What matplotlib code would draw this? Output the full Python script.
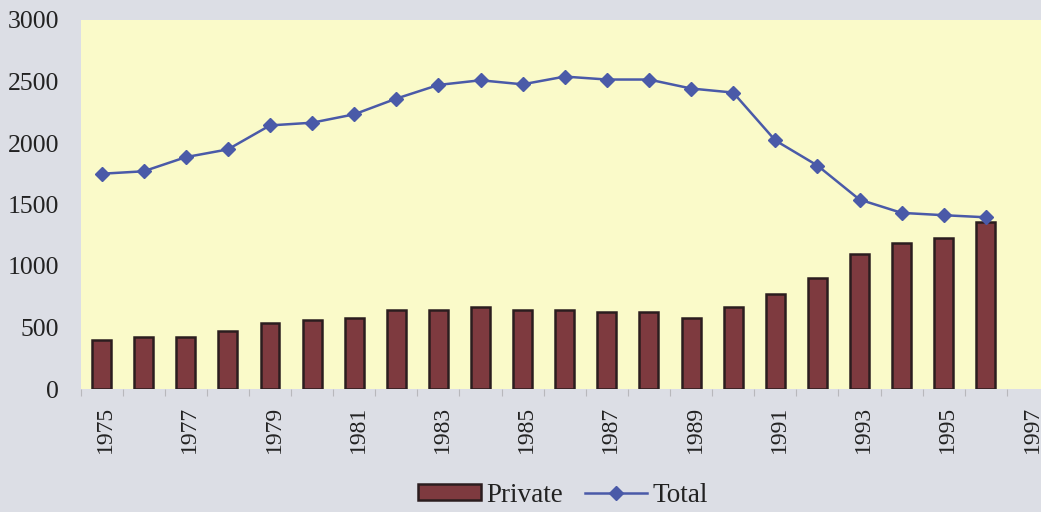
import matplotlib
matplotlib.use("Agg")
import matplotlib.pyplot as plt
import matplotlib.transforms as mtransforms
import numpy as np

# Years on the category axis (1997 is an empty slot at the end)
years = list(range(1975, 1998))
private = [400, 425, 425, 473, 540, 557, 578, 644, 644, 666, 644, 644, 622, 622,
           581, 666, 774, 902, 1100, 1187, 1228, 1358]
total = [1750, 1770, 1885, 1948, 2143, 2165, 2233, 2361, 2472, 2510, 2477, 2540,
         2516, 2516, 2443, 2410, 2021, 1817, 1540, 1432, 1413, 1396]
yticks = [0, 500, 1000, 1500, 2000, 2500, 3000]
xtick_labels = [str(y) for y in years[::2]]

bg = "#dcdee5"
plot_bg = "#fafac9"
bar_fill = "#7e3a3f"
bar_edge = "#2b1d1f"
line_col = "#4a5aa8"
text_col = "#222222"

plt.rcParams["font.family"] = ["Liberation Serif", "DejaVu Serif"]

fig = plt.figure(figsize=(10.41, 5.12), dpi=100, facecolor=bg)
W, H = 1041, 512
left_px, right_px, top_px, bottom_px = 80.5, 1049.0, 20.0, 389.0
ax = fig.add_axes([left_px / W, 1 - bottom_px / H,
                   (right_px - left_px) / W, (bottom_px - top_px) / H])
ax.set_facecolor(plot_bg)

x = np.arange(len(private))
bars = ax.bar(x, private, width=0.45, color=bar_fill, edgecolor=bar_edge,
              linewidth=1.8, label="Private", zorder=2)
line, = ax.plot(np.arange(len(total)), total, color=line_col, linewidth=1.8,
                marker="D", markersize=7, markerfacecolor=line_col,
                markeredgecolor=line_col, label="Total", zorder=3)

ax.set_xlim(-0.5, len(years) - 0.5)
ax.set_ylim(0, 3000)
ax.set_yticks(yticks)
ax.set_yticklabels([str(v) for v in yticks])

ax.set_xticks(np.arange(0, len(years), 2))
ax.set_xticklabels(xtick_labels, rotation=90, va="top", ha="center")
ax.set_xticks(np.arange(-0.5, len(years), 1), minor=True)

for s in ax.spines.values():
    s.set_visible(False)

ax.tick_params(axis="y", length=0, pad=15.5, labelsize=18.5, labelcolor=text_col)
ax.tick_params(axis="x", which="major", length=0, pad=12, labelsize=17,
               labelcolor=text_col)
ax.tick_params(axis="x", which="minor", length=5, width=0.8, color="#b8b8bc")

offset = mtransforms.ScaledTranslation(4 / 100, 0, fig.dpi_scale_trans)
for lbl in ax.get_xticklabels():
    lbl.set_transform(lbl.get_transform() + offset)

fig.legend(handles=[bars, line], labels=["Private", "Total"],
           loc="center", bbox_to_anchor=(563 / W, 1 - 495 / H), ncol=2,
           frameon=False, fontsize=19.5, handlelength=2.3, handleheight=0.55,
           handletextpad=0.2, columnspacing=0.8, labelcolor=text_col)

fig.savefig("out.png", dpi=100, facecolor=bg)
